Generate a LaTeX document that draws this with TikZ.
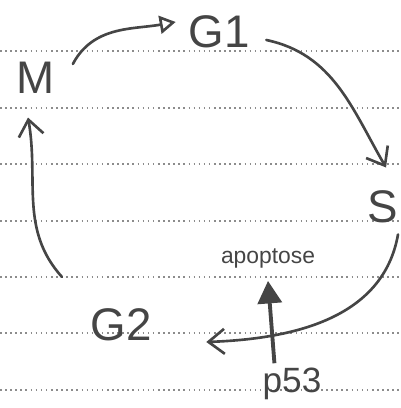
\documentclass[tikz,border=0pt]{standalone}
\usepackage{fontspec}
\setmainfont{Liberation Sans}
\usetikzlibrary{arrows.meta}
\definecolor{lapiz}{HTML}{454545}
\definecolor{renglon}{HTML}{8C8C8C}

\begin{document}
\begin{tikzpicture}[x=0.02cm, y=0.02cm, line width=1.5pt, draw=lapiz,
    fase/.style={text=lapiz, font=\fontsize{26}{28}\selectfont, inner sep=2pt},
    ciclo/.style={lapiz, line cap=round, -{Straight Barb[length=3.2mm, width=5mm, line width=1.5pt]}}]
  \clip (0,0) rectangle (401,408);
  % renglones del papel
  \foreach \y in {357,300,244,187,131,75,18}
    \draw[renglon, line width=0.9pt, dotted] (0,\y) -- (401,\y);
  % fases
  \node[fase] (M) at (36,330) {M};
  \node[fase] (G1) at (219,376) {G1};
  \node[fase, inner sep=0pt] (S) at (383,201) {S};
  \node[fase] (G2) at (121,83) {G2};
  \node[fase, font=\fontsize{20}{22}\selectfont] (p53) at (292,24) {p53};
  \node[text=lapiz, font=\fontsize{13}{15}\selectfont] (apo) at (268,150) {apoptose};
  % ciclo
  \draw[ciclo, -{Triangle[open, length=3.2mm, width=3.6mm, line width=1.5pt]}]
    ([shift={(13,14)}]M.east) to[out=62, in=190] ([shift={(-8,10)}]G1.west);
  \draw[ciclo] ([shift={(12,-8)}]G1.east) to[out=-12, in=120] ([shift={(3,22)}]S.north);
  \draw[ciclo] ([shift={(15,-10)}]S.south) to[out=-100, in=2] ([shift={(50,-17)}]G2.east);
  \draw[ciclo] ([shift={(-59,27)}]G2.north) to[out=132, in=-80] ([shift={(-8,-19)}]M.south);
  % p53 -> apoptose
  \draw[lapiz, line width=2.2pt, -{Triangle[length=4.5mm, width=4.8mm]}]
    ([xshift=-10]p53.north) -- ([shift={(0,-6)}]apo.south);
\end{tikzpicture}
\end{document}
